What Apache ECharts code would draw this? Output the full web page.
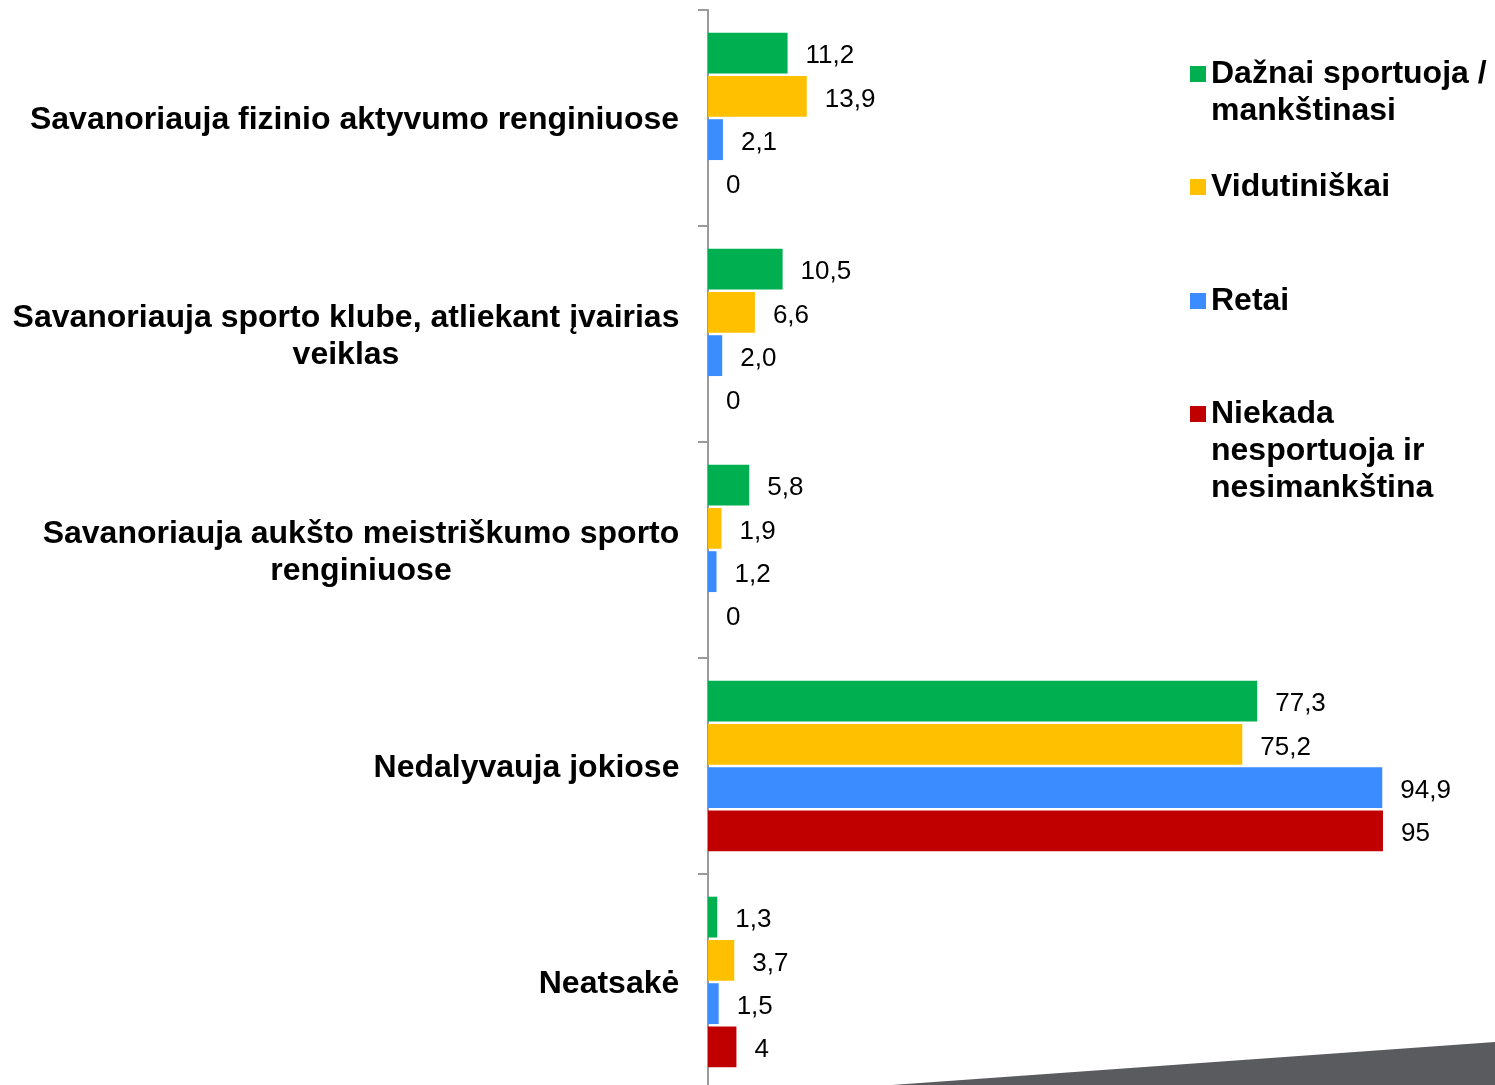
<!DOCTYPE html>
<html>
<head>
<meta charset="utf-8">
<script src="https://cdn.jsdelivr.net/npm/echarts@6/dist/echarts.min.js"></script>
<style>
html,body{margin:0;padding:0;background:#fff;overflow:hidden;}
#chart{width:1495px;height:1090px;}
</style>
</head>
<body>
<div id="chart"></div>
<script>
var categories = [
  'Savanoriauja fizinio aktyvumo renginiuose',
  'Savanoriauja sporto klube, atliekant įvairias\nveiklas',
  'Savanoriauja aukšto meistriškumo sporto\nrenginiuose',
  'Nedalyvauja jokiose',
  'Neatsakė'
];
var seriesNames = [
  'Dažnai sportuoja / mankštinasi',
  'Vidutiniškai',
  'Retai',
  'Niekada nesportuoja ir nesimankština'
];
var legendLabels = [
  'Dažnai sportuoja /\nmankštinasi',
  'Vidutiniškai',
  'Retai',
  'Niekada\nnesportuoja ir\nnesimankština'
];
var dazanai = [11.2, 10.5, 5.8, 77.3, 1.3];
var vidutiniskai = [13.9, 6.6, 1.9, 75.2, 3.7];
var retai = [2.1, 2.0, 1.2, 94.9, 1.5];
var niekada = [0, 0, 0, 95, 4];
var labelDecimals = [1, 1, 1, 0];
var colors = ['#00b050', '#ffc000', '#3a8cff', '#c00000'];

var FONT = 'Liberation Sans, Arial, sans-serif';
var catFont = 32, catLH = 37;

// measure widths for centered multi-line category labels
var cv = document.createElement('canvas').getContext('2d');
cv.font = 'bold ' + catFont + 'px ' + FONT;
var rich = {};
categories.forEach(function (c, i) {
  var w = 0;
  c.split('\n').forEach(function (l) { w = Math.max(w, cv.measureText(l).width); });
  rich['c' + i] = {
    width: Math.ceil(w) + 1, align: 'center', fontSize: catFont, fontWeight: 'bold',
    lineHeight: catLH, fontFamily: FONT, color: '#000'
  };
});

var allData = [dazanai, vidutiniskai, retai, niekada];
var series = allData.map(function (d, si) {
  return {
    name: seriesNames[si],
    type: 'bar',
    data: d,
    barCategoryGap: '21%',
    barGap: '6%',
    itemStyle: { color: colors[si] },
    label: {
      show: true, position: 'right', distance: 17, offset: [1, 3],
      fontSize: 26, fontFamily: FONT, color: '#000',
      formatter: function (p) { return p.value.toFixed(labelDecimals[si]).replace('.', ','); }
    }
  };
});

var legendTops = [18.5, 168.5, 282.5, 321.5];
var legends = seriesNames.map(function (n, i) {
  var lines = legendLabels[i].split('\n');
  var pre = new Array(lines.length).join('\n'); // leading blank lines so icon aligns with first line
  return {
    data: [n], orient: 'vertical', left: 1190, top: legendTops[i], padding: 0,
    itemWidth: 16, itemHeight: 16, icon: 'rect', selectedMode: false,
    formatter: function () { return pre + legendLabels[i]; },
    textStyle: {
      fontSize: catFont, fontWeight: 'bold', fontFamily: FONT, color: '#000',
      lineHeight: catLH
    }
  };
});

var chart = echarts.init(document.getElementById('chart'), null, { renderer: 'canvas' });
chart.setOption({
  animation: false,
  backgroundColor: '#fff',
  color: colors,
  legend: legends,
  grid: { left: 708, top: 10, width: 710.5, height: 1080, containLabel: false },
  xAxis: { type: 'value', min: 0, max: 100, show: false },
  yAxis: {
    type: 'category', inverse: true, data: categories,
    axisLine: { show: true, lineStyle: { color: '#9a9a9a', width: 2 } },
    axisTick: { show: true, length: 10, lineStyle: { color: '#9a9a9a', width: 2 } },
    axisLabel: {
      margin: 28, align: 'right', padding: [5, 0, 0, 0],
      formatter: function (v, i) {
        return v.split('\n').map(function (l) { return '{c' + i + '|' + l + '}'; }).join('\n');
      },
      rich: rich
    },
    splitLine: { show: false }
  },
  graphic: [{
    type: 'polygon', silent: true, z: 0,
    shape: { points: [[892, 1085], [1495, 1042], [1495, 1090], [892, 1090]] },
    style: { fill: '#5a5b5f' }
  }],
  series: series
});
</script>
</body>
</html>
